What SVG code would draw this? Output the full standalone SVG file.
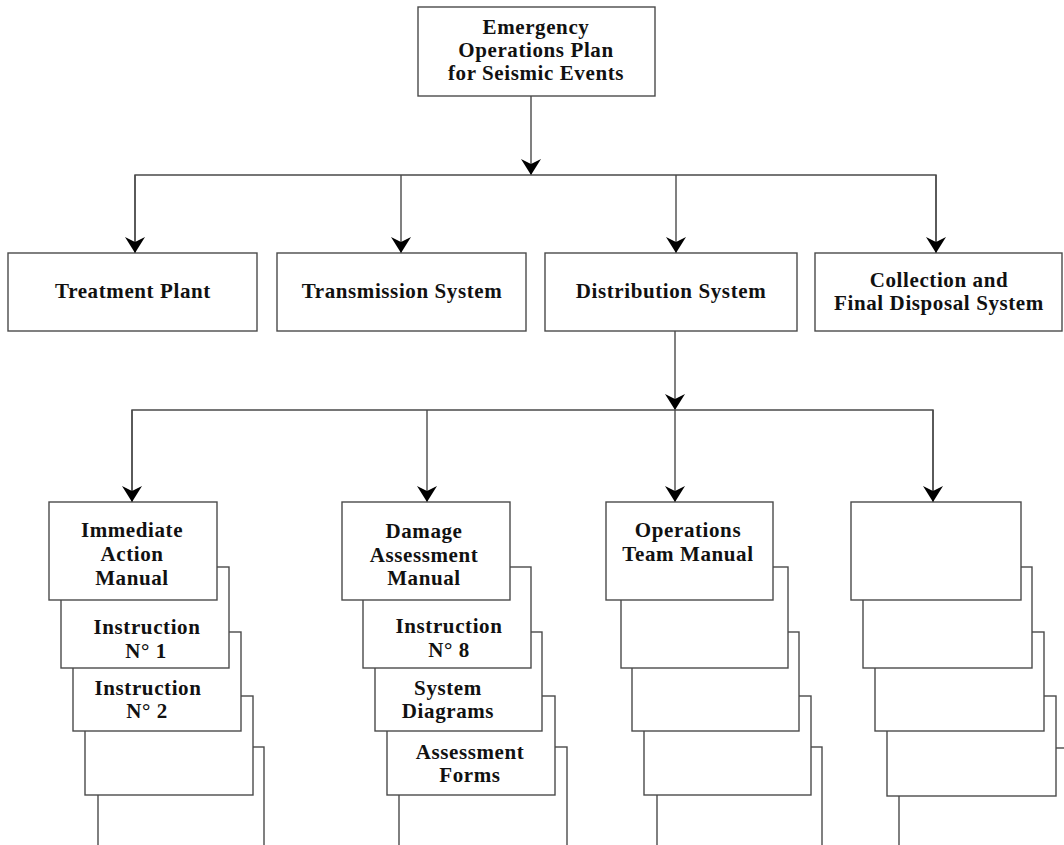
<svg xmlns="http://www.w3.org/2000/svg" width="1064" height="845" viewBox="0 0 1064 845">
<style>
.box{fill:#fff;stroke:#4a4a4a;stroke-width:1.4}
.card{fill:#fff;stroke:#4a4a4a;stroke-width:1.4}
.ln{fill:none;stroke:#4a4a4a;stroke-width:1.4}
.t{font-family:"Liberation Serif","Times New Roman",serif;font-weight:bold;font-size:21px;letter-spacing:0.6px;fill:#111;text-anchor:middle}
</style>
<defs>
<marker id="ah" viewBox="0 0 16 20" refX="16" refY="10" markerWidth="16" markerHeight="20" markerUnits="userSpaceOnUse" orient="auto">
<path d="M0,0 L16,10 L0,20 L5,10 Z" fill="#000"/>
</marker>
</defs>
<rect width="1064" height="845" fill="#fff"/>

<g id="connectors">
<path class="ln" d="M531,96 V175" marker-end="url(#ah)"/>
<path class="ln" d="M135,253 V175 H936 V253"/>
<path class="ln" d="M135,175 V253" marker-end="url(#ah)"/>
<path class="ln" d="M401,175 V253" marker-end="url(#ah)"/>
<path class="ln" d="M676,175 V253" marker-end="url(#ah)"/>
<path class="ln" d="M936,175 V253" marker-end="url(#ah)"/>
<path class="ln" d="M675,331 V410" marker-end="url(#ah)"/>
<path class="ln" d="M132,502 V410 H933 V502"/>
<path class="ln" d="M132,410 V502" marker-end="url(#ah)"/>
<path class="ln" d="M427,410 V502" marker-end="url(#ah)"/>
<path class="ln" d="M675,410 V502" marker-end="url(#ah)"/>
<path class="ln" d="M933,410 V502" marker-end="url(#ah)"/>
</g>

<g id="plan">
<rect class="box" x="418" y="7" width="237" height="89"/>
<text class="t" x="536" y="34">Emergency</text>
<text class="t" x="536" y="57">Operations Plan</text>
<text class="t" x="536" y="80">for Seismic Events</text>
</g>

<g id="treatment">
<rect class="box" x="8" y="253" width="249" height="78"/>
<text class="t" x="133" y="298">Treatment Plant</text>
</g>
<g id="transmission">
<rect class="box" x="277" y="253" width="249" height="78"/>
<text class="t" x="402" y="298">Transmission System</text>
</g>
<g id="distribution">
<rect class="box" x="545" y="253" width="252" height="78"/>
<text class="t" x="671" y="298">Distribution System</text>
</g>
<g id="collection">
<rect class="box" x="815" y="253" width="247" height="78"/>
<text class="t" x="939" y="287">Collection and</text>
<text class="t" x="939" y="310">Final Disposal System</text>
</g>

<g id="col1">
<rect class="card" x="98" y="747" width="166" height="120"/>
<rect class="card" x="85" y="696" width="168" height="99"/>
<rect class="card" x="73" y="632" width="168" height="99"/>
<rect class="card" x="61" y="567" width="168" height="101"/>
<rect class="card" x="49" y="502" width="168" height="98"/>
<text class="t" x="132" y="537">Immediate</text>
<text class="t" x="132" y="561">Action</text>
<text class="t" x="132" y="585">Manual</text>
<text class="t" x="147" y="634">Instruction</text>
<text class="t" x="146" y="658">N° 1</text>
<text class="t" x="148" y="695">Instruction</text>
<text class="t" x="147" y="718">N° 2</text>
</g>

<g id="col2">
<rect class="card" x="399" y="747" width="168" height="120"/>
<rect class="card" x="387" y="696" width="168" height="99"/>
<rect class="card" x="375" y="632" width="167" height="99"/>
<rect class="card" x="363" y="567" width="168" height="101"/>
<rect class="card" x="342" y="502" width="168" height="98"/>
<text class="t" x="424" y="538">Damage</text>
<text class="t" x="424" y="562">Assessment</text>
<text class="t" x="424" y="585">Manual</text>
<text class="t" x="449" y="633">Instruction</text>
<text class="t" x="449" y="657">N° 8</text>
<text class="t" x="448" y="694.5">System</text>
<text class="t" x="448" y="718">Diagrams</text>
<text class="t" x="470" y="759">Assessment</text>
<text class="t" x="470" y="782">Forms</text>
</g>

<g id="col3">
<rect class="card" x="657" y="747" width="165" height="120"/>
<rect class="card" x="644" y="696" width="167" height="99"/>
<rect class="card" x="632" y="632" width="167" height="99"/>
<rect class="card" x="621" y="567" width="167" height="101"/>
<rect class="card" x="606" y="502" width="167" height="98"/>
<text class="t" x="688" y="537">Operations</text>
<text class="t" x="688" y="560.5">Team Manual</text>
</g>

<g id="col4">
<rect class="card" x="899" y="748" width="175" height="120"/>
<rect class="card" x="887" y="696" width="169" height="100"/>
<rect class="card" x="875" y="632" width="169" height="99"/>
<rect class="card" x="863" y="567" width="169" height="101"/>
<rect class="card" x="851" y="502" width="170" height="98"/>
</g>
</svg>
